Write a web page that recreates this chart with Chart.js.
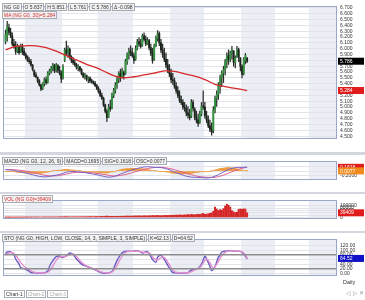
<!DOCTYPE html>
<html><head><meta charset="utf-8">
<script src="https://cdn.jsdelivr.net/npm/chart.js@4.4.1/dist/chart.umd.min.js"></script>
<style>
html,body{margin:0;padding:0;background:#fff;width:365px;height:300px;overflow:hidden;font-family:"Liberation Sans",Arial,sans-serif;}
canvas{position:absolute;left:0;}
.sep{position:absolute;left:0;width:365px;background:#d3d6de;}
.hdr{position:absolute;font-size:5px;line-height:6px;white-space:nowrap;color:#333;}
.hdr span{display:inline-block;border:1px solid #a8acb4;background:#f2f2f2;padding:0 1px;margin-right:1px;}
.red span{color:#d42a2a;}
.txt{position:absolute;font-size:5.5px;line-height:6px;white-space:nowrap;color:#333;}
</style></head><body>
<canvas id="cMain" width="365" height="152" style="top:0"></canvas>
<div class="sep" style="top:152px;height:3px"></div>
<canvas id="cMacd" width="365" height="37" style="top:155px"></canvas>
<div class="sep" style="top:192px;height:2px"></div>
<canvas id="cVol" width="365" height="37" style="top:194px"></canvas>
<div class="sep" style="top:231px;height:2px"></div>
<canvas id="cSto" width="365" height="57" style="top:233px"></canvas>

<div class="hdr" style="left:2px;top:3px"><span>NG G0</span><span>O 5.837</span><span>H 5.851</span><span>L 5.761</span><span>C 5.786</span><span>&Delta; -0.098</span></div>
<div class="hdr red" style="left:2px;top:11px"><span>MA (NG G0, 30)=5.284</span></div>
<div class="hdr" style="left:2px;top:157px"><span>MACD (NG G0, 12, 26, 9)</span><span>MACD=0.1695</span><span>SIG=0.1618</span><span>OSC=0.0077</span></div>
<div class="hdr red" style="left:2px;top:195px"><span>VOL (NG G0)=39409</span></div>
<div class="hdr" style="left:2px;top:234px"><span>STO (NG G0, HIGH, LOW, CLOSE, 14, 3, SIMPLE, 3, SIMPLE)</span><span>K=62.13</span><span>D=64.52</span></div>
<div class="txt" style="left:343px;top:279px">Daily</div>
<div class="hdr" style="left:4px;top:290px"><span style="background:#fff">Chart-1</span><span style="color:#aaa;background:#fff">Chart-2</span><span style="color:#aaa;background:#fff">Chart-3</span></div>
<div class="txt" style="left:346px;top:290px;color:#999">&#9665; &#9655; &#10005;</div>

<script>
// ---------- DATA ----------
const open  = [6.12,6.20,6.36,6.28,6.22,6.08,6.04,5.95,6.03,5.94,6.03,5.96,5.90,5.86,5.80,5.78,5.72,5.62,5.55,5.51,
5.45,5.38,5.32,5.40,5.47,5.43,5.58,5.62,5.66,5.72,5.63,5.71,5.63,5.58,5.50,5.80,5.98,5.93,5.99,5.86,
5.80,5.76,5.72,5.68,5.69,5.64,5.57,5.52,5.54,5.48,5.50,5.45,5.43,5.41,5.37,5.32,5.27,5.20,5.15,5.04,
4.93,4.83,5.00,4.98,5.20,5.28,5.38,5.48,5.58,5.52,5.60,5.58,5.78,5.90,5.96,5.93,5.88,5.82,6.00,6.12,
6.08,6.06,6.22,6.16,6.08,6.14,6.02,5.92,5.82,6.05,6.18,6.26,6.10,5.98,5.90,5.82,5.72,5.64,5.57,5.47,
5.45,5.36,5.28,5.20,5.12,5.08,5.00,4.98,4.90,4.86,4.84,5.08,4.96,4.82,4.78,4.74,4.88,5.02,5.00,4.85,
4.78,4.68,4.62,4.60,4.95,5.15,5.22,5.38,5.50,5.58,5.64,5.78,5.88,5.82,5.92,5.96,5.76,5.86,5.98,5.84,
5.70,5.58,5.80,5.837];
const high  = [6.32,6.47,6.42,6.35,6.27,6.16,6.12,6.08,6.05,6.08,6.08,6.01,5.93,5.88,5.85,5.82,5.73,5.64,5.59,5.52,
5.47,5.39,5.42,5.50,5.52,5.61,5.65,5.70,5.75,5.73,5.75,5.73,5.70,5.62,5.73,6.01,6.13,6.05,6.01,5.88,
5.85,5.81,5.75,5.73,5.70,5.66,5.59,5.58,5.55,5.52,5.52,5.48,5.45,5.44,5.39,5.35,5.30,5.24,5.17,5.05,
4.96,5.05,5.12,5.24,5.32,5.42,5.52,5.61,5.65,5.67,5.62,5.82,5.93,6.01,6.05,6.01,5.93,6.05,6.16,6.19,
6.16,6.25,6.27,6.22,6.19,6.16,6.08,6.01,6.08,6.22,6.31,6.29,6.16,6.08,6.01,5.93,5.82,5.73,5.65,5.58,
5.50,5.42,5.35,5.28,5.19,5.13,5.08,5.04,5.01,4.96,5.13,5.12,4.99,4.93,4.88,4.93,5.08,5.28,5.08,4.93,
4.85,4.78,4.73,5.01,5.19,5.28,5.42,5.55,5.62,5.70,5.82,5.93,5.98,5.96,6.04,5.97,5.88,6.04,6.01,5.85,
5.73,5.85,5.92,5.851];
const low   = [6.08,6.13,6.24,6.19,6.05,6.01,5.90,5.93,5.90,5.93,5.90,5.88,5.82,5.78,5.75,5.70,5.62,5.52,5.50,5.42,
5.36,5.28,5.30,5.36,5.39,5.41,5.55,5.58,5.62,5.59,5.60,5.59,5.55,5.42,5.48,5.78,5.88,5.85,5.82,5.76,
5.73,5.70,5.65,5.62,5.61,5.55,5.50,5.48,5.45,5.42,5.42,5.41,5.39,5.35,5.30,5.24,5.18,5.13,5.01,4.90,
4.75,4.82,4.93,4.97,5.16,5.24,5.32,5.42,5.44,5.50,5.48,5.56,5.73,5.82,5.88,5.85,5.75,5.80,5.98,6.04,
6.01,6.04,6.13,6.05,6.07,5.98,5.88,5.75,5.80,6.03,6.13,6.05,5.93,5.85,5.78,5.67,5.59,5.52,5.42,5.39,
5.32,5.24,5.16,5.08,5.04,4.96,4.93,4.85,4.81,4.78,4.82,4.93,4.78,4.73,4.67,4.72,4.85,4.96,4.81,4.73,
4.65,4.58,4.52,4.56,4.90,5.01,5.13,5.24,5.35,5.42,5.55,5.67,5.73,5.78,5.82,5.70,5.67,5.85,5.78,5.62,
5.50,5.55,5.74,5.761];
const close = [6.25,6.38,6.28,6.22,6.08,6.04,5.95,6.04,5.93,6.03,5.95,5.90,5.85,5.80,5.78,5.72,5.65,5.55,5.52,5.45,
5.38,5.31,5.40,5.47,5.42,5.58,5.62,5.66,5.72,5.62,5.72,5.63,5.58,5.48,5.70,5.98,5.92,6.00,5.86,5.80,
5.76,5.72,5.68,5.70,5.64,5.57,5.52,5.55,5.48,5.50,5.45,5.43,5.41,5.37,5.32,5.27,5.20,5.15,5.04,4.93,
4.82,5.00,4.97,5.20,5.28,5.38,5.48,5.58,5.50,5.62,5.55,5.79,5.90,5.96,5.93,5.88,5.80,6.00,6.12,6.08,
6.04,6.22,6.16,6.08,6.15,6.02,5.92,5.80,6.05,6.18,6.26,6.10,5.98,5.90,5.82,5.72,5.64,5.57,5.47,5.45,
5.36,5.28,5.20,5.12,5.08,5.00,4.98,4.90,4.86,4.82,5.08,4.98,4.82,4.78,4.72,4.88,5.02,5.00,4.85,4.78,
4.68,4.62,4.57,4.95,5.15,5.22,5.38,5.50,5.58,5.64,5.78,5.88,5.82,5.92,5.98,5.76,5.84,5.98,5.85,5.70,
5.56,5.82,5.884,5.786];
// 30-day moving average, read at sample bars [barIndex, value]
const maPts = [[0,5.98],[6,6.04],[12,6.05],[18,6.05],[24,6.02],[30,5.96],[36,5.88],[42,5.81],[48,5.73],[54,5.67],
[60,5.59],[66,5.52],[70,5.50],[76,5.52],[82,5.55],[88,5.58],[94,5.62],[100,5.61],[106,5.57],[112,5.53],
[118,5.47],[124,5.39],[130,5.35],[136,5.32],[143,5.284]];
// MACD / signal read at sample bars
const macdPts = [[0,0.06],[4,0.04],[8,-0.02],[12,-0.08],[16,-0.16],[20,-0.23],[24,-0.25],[28,-0.20],[32,-0.15],[36,-0.05],
[40,-0.02],[44,-0.04],[48,-0.08],[52,-0.13],[56,-0.19],[60,-0.26],[64,-0.24],[68,-0.13],[72,-0.02],[76,0.07],
[80,0.15],[84,0.19],[88,0.16],[92,0.15],[96,0.08],[100,-0.04],[104,-0.15],[108,-0.24],[112,-0.27],[116,-0.28],
[120,-0.30],[124,-0.22],[128,-0.08],[132,0.07],[136,0.15],[140,0.16],[143,0.1695]];
const sigPts = [[0,0.07],[4,0.06],[8,0.04],[12,0.00],[16,-0.06],[20,-0.13],[24,-0.19],[28,-0.21],[32,-0.19],[36,-0.13],
[40,-0.07],[44,-0.05],[48,-0.06],[52,-0.08],[56,-0.12],[60,-0.17],[64,-0.21],[68,-0.19],[72,-0.13],[76,-0.05],
[80,0.04],[84,0.11],[88,0.15],[92,0.16],[96,0.13],[100,0.06],[104,-0.03],[108,-0.12],[112,-0.20],[116,-0.25],
[120,-0.27],[124,-0.27],[128,-0.20],[132,-0.09],[136,0.03],[140,0.12],[143,0.1618]];
const osc = [-0.01,-0.01,-0.01,-0.01,-0.02,-0.03,-0.04,-0.05,-0.06,-0.07,-0.07,-0.08,-0.08,-0.09,-0.09,-0.10,-0.10,-0.10,-0.10,-0.10,
-0.10,-0.09,-0.08,-0.07,-0.06,-0.05,-0.03,-0.02,0.01,0.02,0.03,0.04,0.04,0.05,0.06,0.07,0.08,0.07,0.06,0.05,
0.05,0.04,0.02,0.01,0.01,0.00,-0.01,-0.02,-0.02,-0.03,-0.04,-0.04,-0.05,-0.05,-0.06,-0.06,-0.07,-0.07,-0.08,-0.08,
-0.09,-0.07,-0.05,-0.04,-0.03,-0.01,0.02,0.04,0.06,0.08,0.09,0.10,0.11,0.11,0.12,0.12,0.12,0.12,0.11,0.11,
0.11,0.10,0.09,0.08,0.08,0.06,0.04,0.02,0.01,0.01,0.00,-0.01,-0.01,-0.02,-0.03,-0.04,-0.05,-0.06,-0.08,-0.09,
-0.10,-0.10,-0.11,-0.12,-0.12,-0.12,-0.12,-0.12,-0.12,-0.11,-0.10,-0.09,-0.07,-0.06,-0.05,-0.04,-0.03,-0.03,-0.03,-0.03,
-0.03,-0.01,0.01,0.03,0.05,0.07,0.09,0.11,0.12,0.13,0.14,0.15,0.16,0.15,0.14,0.13,0.12,0.10,0.08,0.06,
0.04,0.02,0.01,0.0077];
const volume = [2100,2400,1800,2600,3100,2200,2800,3000,2500,3300,2900,3600,2700,3400,3900,3100,3700,4200,3500,4000,
4600,3900,4300,5000,4100,4700,3800,4400,5200,4600,4100,4900,5400,6200,5100,7400,6800,5600,5900,5200,
5700,6100,5400,6300,5900,6600,6000,6900,6400,7100,6500,7300,6800,7600,8200,7400,8800,9300,8600,10400,
11800,10200,9500,9000,8700,9800,9100,10300,9600,10900,10100,11600,12400,11300,12100,11500,12800,13600,12200,14100,
13300,12600,14400,13800,12900,14700,13900,16800,15200,16100,17400,15800,14600,15900,16700,17800,16200,18900,17300,19600,
18400,20700,19100,21800,20200,19400,22600,21100,23900,22400,26800,24100,22900,25300,27600,24800,29400,35200,26500,28900,
31600,34800,38700,52600,87400,71200,58300,66500,62100,74800,96300,112400,103700,88200,57600,47300,41800,45200,68400,71600,
69200,72800,70500,39409];
// Stochastic %K / %D read at sample bars
const kPts = [[0,85],[1,92],[3,93],[5,80],[6,62],[8,40],[9,25],[12,18],[14,10],[15,4],[18,2],[22,1],[25,10],[26,30],[28,55],
[30,72],[32,75],[34,68],[37,82],[38,88],[40,82],[42,62],[45,40],[48,30],[51,22],[54,12],[57,3],[60,1],[63,8],[64,22],
[66,55],[68,80],[70,94],[72,96],[75,95],[77,98],[79,96],[81,88],[84,94],[87,60],[89,48],[90,70],[92,78],[94,60],[96,35],
[98,12],[99,4],[102,2],[105,1],[108,3],[109,10],[112,20],[114,22],[116,40],[118,74],[119,62],[121,30],[122,12],[124,30],
[126,70],[127,78],[128,92],[130,96],[133,98],[135,96],[137,95],[139,95],[140,90],[142,75],[143,62.13]];
const dPts = [[0,80],[2,88],[4,90],[6,78],[8,58],[10,38],[12,25],[14,16],[16,8],[19,3],[23,2],[25,5],[27,20],[29,45],[31,65],
[33,72],[35,72],[38,80],[40,84],[42,72],[44,55],[47,36],[50,26],[53,17],[56,8],[59,3],[62,3],[64,12],[66,35],[68,62],
[70,84],[72,94],[75,95],[78,96],[80,94],[82,90],[85,88],[88,64],[90,58],[92,68],[94,68],[96,50],[98,25],[100,8],[103,3],
[106,2],[109,5],[112,15],[115,25],[117,45],[119,62],[121,45],[123,22],[125,40],[127,65],[129,85],[131,94],[134,97],[137,96],
[140,93],[142,80],[143,64.52]];
// Date axis: bar index of each labelled date, and its label
const tickIdx    = [0,12,23,34,55,76,87,98,118,129,140,160,180,191];
const tickLabels = ['15','Jul','17','Aug','Sep','Oct','16','Nov','Dec','16',"'10",'Feb','Mar','16'];
// bar index of the first trading day of each month Jul..Mar
const monthStart = [12,34,55,76,98,118,140,160,180];
const priceTicks = [4.5,4.6,4.7,4.8,4.9,5.0,5.1,5.2,5.3,5.4,5.5,5.6,5.7,5.8,5.9,6.0,6.1,6.2,6.3,6.4,6.5,6.6,6.7];
const macdTicks = [-0.2,0,0.2];
const volTicks = [0,20000,40000,60000,80000,100000];
const stoTicks = [0,20,40,60,80,100,120];

// ---------- RENDERING ----------
const FONT = '"Liberation Sans", Arial, sans-serif';
const X_MIN = -1.5, X_MAX = 196.2;
const BAND = '#eceef5', BORDER = '#9aa8c8';
const shaded = [];
for (let i = 0; i < monthStart.length; i += 2) shaded.push([monthStart[i] - 0.5, (monthStart[i+1] ?? X_MAX + 0.5) - 0.5]);

const pts = a => a.map(p => ({x: p[0], y: p[1]}));
const idx = close.map((_, i) => i);

function xScale(show) {
  return {type:'linear', min:X_MIN, max:X_MAX, display:show, offset:false,
    grid:{display:false}, border:{display:false},
    afterBuildTicks: s => { s.ticks = tickIdx.map(v => ({value:v})); },
    afterFit: s => { s.height = 12; },
    ticks:{autoSkip:false, maxRotation:0, minRotation:0, align:'start', padding:4, color:'#333',
      font:{size:5.5, family:FONT}, callback: v => tickLabels[tickIdx.indexOf(v)]}};
}
function yScale(min, max, ticks, fmt) {
  return {position:'right', min, max, border:{display:false},
    grid:{color:'#e2e4ea', drawTicks:false, lineWidth:1},
    afterBuildTicks: s => { s.ticks = ticks.map(v => ({value:v})); },
    afterFit: s => { s.width = 28; },
    ticks:{autoSkip:false, padding:3, color:'#333', font:{size:5, family:FONT}, callback: v => fmt(v)}};
}
const panelPlugin = {
  id:'panel',
  beforeDraw(chart) {
    const {ctx, chartArea:a, scales:{x}} = chart;
    ctx.save();
    ctx.fillStyle = '#fff'; ctx.fillRect(a.left, a.top, a.width, a.height);
    ctx.fillStyle = BAND;
    for (const [s, e] of shaded) {
      const x0 = Math.max(a.left, x.getPixelForValue(s)), x1 = Math.min(a.right, x.getPixelForValue(e));
      if (x1 > x0) ctx.fillRect(x0, a.top, x1 - x0, a.height);
    }
    ctx.restore();
  },
  afterDatasetsDraw(chart, args, opts) {
    const {ctx, chartArea:a, scales:{y}} = chart;
    ctx.save();
    (opts.hlines || []).forEach(v => {
      const py = y.getPixelForValue(v);
      ctx.strokeStyle = '#8d8d8d'; ctx.lineWidth = 1.5;
      ctx.beginPath(); ctx.moveTo(a.left, py); ctx.lineTo(a.right, py); ctx.stroke();
    });
    ctx.strokeStyle = BORDER; ctx.lineWidth = 1;
    ctx.strokeRect(a.left + 0.5, a.top + 0.5, a.width - 1, a.height - 1);
    (opts.boxes || []).forEach(b => {
      const py = y.getPixelForValue(b.v);
      ctx.fillStyle = b.bg; ctx.fillRect(a.right + 1, py - 3.5, 26, 7);
      ctx.fillStyle = b.fg; ctx.font = '5px ' + FONT; ctx.textBaseline = 'middle'; ctx.textAlign = 'left';
      ctx.fillText(b.t, a.right + 3, py + 0.3);
    });
    ctx.restore();
  }
};
function baseOpts(extra) {
  return Object.assign({responsive:false, animation:false, events:[], devicePixelRatio:1,
    layout:{padding:{left:3, right:0, top:0, bottom:0}},
    plugins:{legend:{display:false}, tooltip:{enabled:false}}}, extra);
}
Chart.register(panelPlugin);

const UP = '#33913f', DOWN = '#1d241d';
new Chart(document.getElementById('cMain'), {
  data:{datasets:[
    {type:'line', data:pts(maPts), borderColor:'#d62a2a', borderWidth:1.3, pointRadius:0, tension:0.35, order:0},
    {type:'bar', data:idx.map(i => ({x:i, y:[open[i], close[i]]})), grouped:false, barThickness:1.25, minBarLength:0.6,
      backgroundColor: c => close[c.dataIndex] >= open[c.dataIndex] ? UP : DOWN, order:1},
    {type:'bar', data:idx.map(i => ({x:i, y:[low[i], high[i]]})), grouped:false, barThickness:0.6,
      backgroundColor:'#2a2f2a', order:2}
  ]},
  options: baseOpts({layout:{padding:{left:3, right:0, top:3, bottom:1}},
    scales:{x:xScale(false), y:yScale(4.454, 6.731, priceTicks, v => v.toFixed(3))},
    plugins:{legend:{display:false}, tooltip:{enabled:false},
      panel:{boxes:[{v:close[close.length-1], t:close[close.length-1].toFixed(3), bg:'#000', fg:'#fff'},
                    {v:maPts[maPts.length-1][1], t:maPts[maPts.length-1][1].toFixed(3), bg:'#e01c1c', fg:'#fff'}]}}})
});
new Chart(document.getElementById('cMacd'), {
  data:{datasets:[
    {type:'line', data:pts(macdPts), borderColor:'#7a62c8', borderWidth:1, pointRadius:0, tension:0.35, order:0},
    {type:'line', data:pts(sigPts), borderColor:'#e0608e', borderWidth:1, pointRadius:0, tension:0.35, order:1},
    {type:'bar', data:idx.map(i => ({x:i, y:osc[i]})), grouped:false, barThickness:1.3, backgroundColor:'#ec9a3c', order:2}
  ]},
  options: baseOpts({scales:{x:xScale(false), y:yScale(-0.387, 0.436, macdTicks, v => v.toFixed(4))},
    plugins:{legend:{display:false}, tooltip:{enabled:false},
      panel:{boxes:[{v:sigPts[sigPts.length-1][1], t:'0.1618', bg:'#e01c1c', fg:'#fff'},
                    {v:osc[osc.length-1], t:'0.0077', bg:'#f08a1c', fg:'#fff'}]}}})
});
new Chart(document.getElementById('cVol'), {
  data:{datasets:[
    {type:'bar', data:idx.map(i => ({x:i, y:volume[i]})), grouped:false, barThickness:1.3, backgroundColor:'#d42424'}
  ]},
  options: baseOpts({scales:{x:xScale(false), y:yScale(-13000, 147800, volTicks, v => String(v))},
    plugins:{legend:{display:false}, tooltip:{enabled:false},
      panel:{boxes:[{v:volume[volume.length-1], t:String(volume[volume.length-1]), bg:'#e01c1c', fg:'#fff'}]}}})
});
new Chart(document.getElementById('cSto'), {
  data:{datasets:[
    {type:'line', data:pts(kPts), borderColor:'#6a5cc0', borderWidth:1.4, pointRadius:0, tension:0.35, order:1},
    {type:'line', data:pts(dPts), borderColor:'#e58fcf', borderWidth:1.4, pointRadius:0, tension:0.35, order:0}
  ]},
  options: baseOpts({layout:{padding:{left:3, right:0, top:0, bottom:2}},
    scales:{x:xScale(true), y:yScale(-11, 148, stoTicks, v => v.toFixed(2))},
    plugins:{legend:{display:false}, tooltip:{enabled:false},
      panel:{hlines:[80, 20], boxes:[{v:dPts[dPts.length-1][1], t:'64.52', bg:'#1010c8', fg:'#fff'}]}}})
});
</script>
</body></html>
